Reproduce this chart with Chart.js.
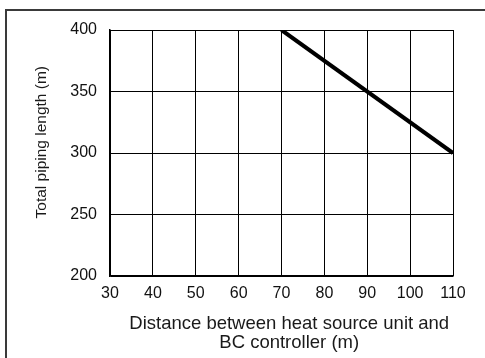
<!DOCTYPE html>
<html>
<head>
<meta charset="utf-8">
<script src="https://cdn.jsdelivr.net/npm/chart.js@4/dist/chart.umd.min.js"></script>
<style>
  html, body { margin: 0; padding: 0; background: #fff; }
  #wrap { width: 485px; height: 358px; position: relative; }
</style>
</head>
<body>
<div id="wrap"><canvas id="chart"></canvas></div>
<script>
// Piping limit: distance to BC controller vs allowed total length
const distance = [70, 110];
const totalLength = [400, 300];
const xTicks = [30, 40, 50, 60, 70, 80, 90, 100, 110];
const yTicks = [200, 250, 300, 350, 400];

const FONT = 'Liberation Sans, Arial, Helvetica, sans-serif';

// outer frame (left and top edges only)
const frame = {
    id: 'frame',
    beforeDraw(chart) {
        const c = chart.ctx;
        c.save();
        c.strokeStyle = '#3a3a3a';
        c.lineWidth = 2;
        c.beginPath();
        c.moveTo(485, 10);
        c.lineTo(6, 10);
        c.lineTo(6, 358);
        c.stroke();
        c.restore();
    }
};

new Chart(document.getElementById('chart'), {
    type: 'line',
    data: {
        datasets: [{
            data: distance.map((d, i) => ({ x: d, y: totalLength[i] })),
            borderColor: '#000',
            borderWidth: 4,
            pointRadius: 0,
            fill: false
        }]
    },
    options: {
        responsive: true,
        maintainAspectRatio: false,
        animation: false,
        layout: { padding: { top: 30, right: 32, left: 0, bottom: 0 } },
        plugins: {
            legend: { display: false },
            tooltip: { enabled: false }
        },
        scales: {
            x: {
                type: 'linear',
                min: 30,
                max: 110,
                afterFit: s => { s.height = 82; },
                afterBuildTicks: s => { s.ticks = xTicks.map(v => ({ value: v })); },
                grid: { color: '#000', lineWidth: 1, drawTicks: false },
                border: { color: '#000', width: 1.5 },
                ticks: { color: '#111', font: { family: FONT, size: 16 }, padding: 8, maxRotation: 0 },
                title: {
                    display: true,
                    // leading spaces nudge the centred text a little right
                    text: ['   Distance between heat source unit and', '   BC controller (m)'],
                    color: '#1a1a1a',
                    font: { family: FONT, size: 18.5, lineHeight: 1.0 },
                    padding: { top: 12, bottom: 6 }
                }
            },
            y: {
                type: 'linear',
                min: 200,
                max: 400,
                afterFit: s => { s.width = 110; },
                afterBuildTicks: s => { s.ticks = yTicks.map(v => ({ value: v })); },
                grid: { color: '#000', lineWidth: 1, drawTicks: false },
                border: { color: '#000', width: 1.5 },
                ticks: { color: '#111', font: { family: FONT, size: 16 }, padding: 13 },
                title: {
                    display: true,
                    text: '     Total piping length (m)',
                    color: '#1a1a1a',
                    font: { family: FONT, size: 15.5 },
                    padding: { top: 32, bottom: 0 }
                }
            }
        }
    },
    plugins: [frame]
});
</script>
</body>
</html>
